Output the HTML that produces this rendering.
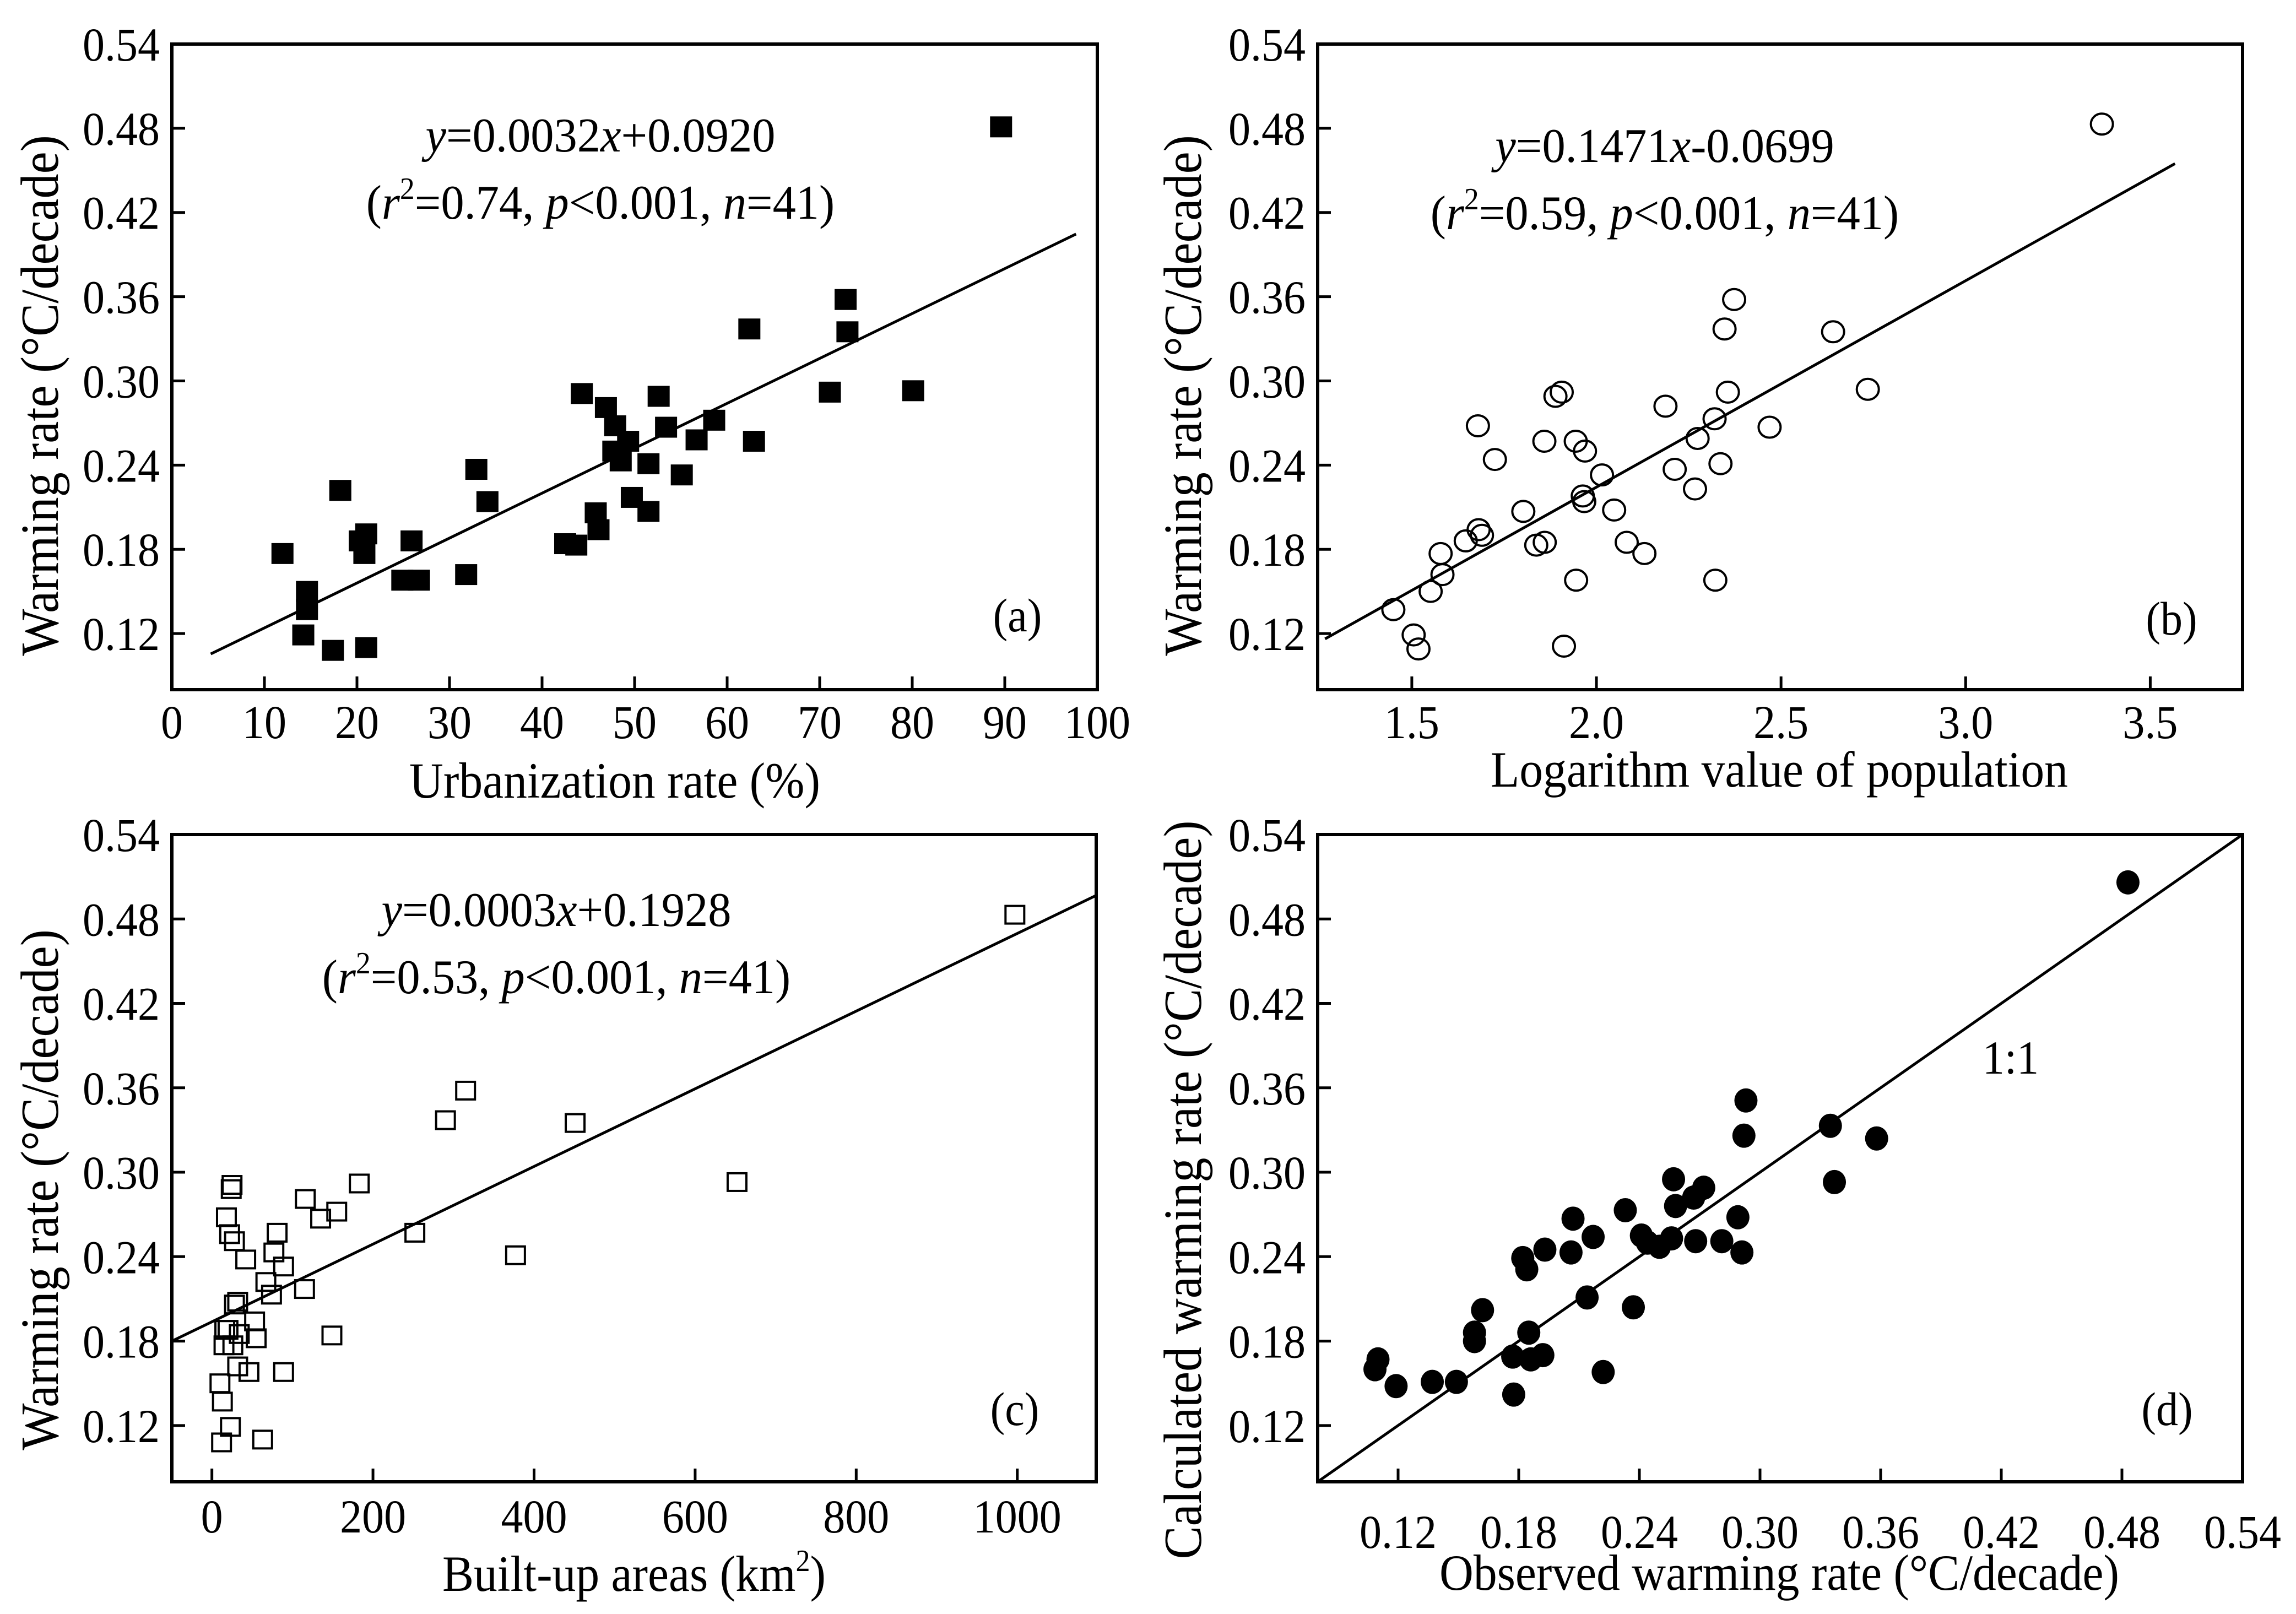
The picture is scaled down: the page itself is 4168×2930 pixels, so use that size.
<!DOCTYPE html>
<html><head><meta charset="utf-8"><style>
html,body{margin:0;padding:0;background:#fff}
svg{display:block}
text{font-family:"Liberation Serif",serif;fill:#000}
</style></head><body>
<svg id="fig" xmlns="http://www.w3.org/2000/svg" width="4168" height="2930" viewBox="0 0 4168 2930"></svg>
<script>
// ---- Panel (a) data: urbanization rate vs warming rate
const aX=[11.95,14.2,14.6,14.6,17.4,18.2,20.3,20.8,21.0,21.0,24.9,25.9,26.7,31.8,32.9,34.1,42.5,43.7,44.3,45.8,46.1,46.9,47.9,47.7,48.5,49.3,49.7,51.5,51.5,52.6,53.4,55.1,56.7,58.6,62.4,62.9,71.1,72.8,73.0,80.1,89.6];
const aY=[0.177,0.119,0.150,0.137,0.108,0.222,0.186,0.177,0.191,0.110,0.158,0.186,0.158,0.162,0.237,0.214,0.184,0.183,0.291,0.206,0.194,0.281,0.268,0.250,0.243,0.257,0.217,0.241,0.207,0.289,0.267,0.233,0.258,0.272,0.337,0.257,0.292,0.358,0.335,0.293,0.481];
const aXTicks=[0,10,20,30,40,50,60,70,80,90,100];
const aFit=[0.0032,0.0920,4.2,97.7];
// ---- Panel (b) data: log population
const bX=[1.450,1.505,1.518,1.551,1.583,1.578,1.646,1.681,1.690,1.679,1.725,1.802,1.837,1.860,1.859,1.889,1.906,1.912,1.945,1.944,1.969,1.963,1.967,2.015,2.048,2.082,2.130,2.187,2.212,2.267,2.274,2.320,2.322,2.336,2.347,2.356,2.373,2.469,2.641,2.735,3.369];
const bY=[0.137,0.119,0.109,0.150,0.162,0.177,0.186,0.194,0.190,0.268,0.244,0.207,0.183,0.185,0.257,0.289,0.292,0.111,0.158,0.257,0.250,0.218,0.214,0.233,0.208,0.185,0.177,0.282,0.237,0.223,0.259,0.273,0.158,0.241,0.337,0.292,0.358,0.267,0.335,0.294,0.483];
const bXTicks=[1.5,2.0,2.5,3.0,3.5];
const bFit=[0.1471,-0.0699,1.265,3.567];
// ---- Panel (c) data: built-up areas
const cX=[12,63,23,13,10,46,89,32,15,26,20,34,55,53,28,32,74,67,115,149,89,42,77,81,28,22,18,135,116,155,183,24,25,252,377,290,315,451,652,997,16];
const cY=[0.108,0.110,0.119,0.137,0.150,0.158,0.158,0.162,0.177,0.177,0.188,0.185,0.182,0.194,0.206,0.208,0.213,0.222,0.217,0.184,0.233,0.238,0.243,0.257,0.251,0.256,0.268,0.267,0.281,0.272,0.292,0.288,0.291,0.257,0.241,0.337,0.358,0.335,0.293,0.483,0.188];
const cXTicks=[0,200,400,600,800,1000];
const cFit=[0.000276,0.1937,-49.7,1098];
// ---- Panel (d) data: observed vs calculated
const dX=[0.1085,0.110,0.119,0.137,0.149,0.158,0.158,0.162,0.177,0.1775,0.185,0.186,0.192,0.182,0.184,0.193,0.206,0.207,0.214,0.217,0.222,0.233,0.237,0.241,0.244,0.250,0.256,0.257,0.258,0.267,0.272,0.268,0.281,0.289,0.291,0.292,0.293,0.335,0.337,0.358,0.483];
const dY=[0.160,0.167,0.148,0.151,0.151,0.180,0.186,0.202,0.169,0.142,0.186,0.167,0.170,0.239,0.231,0.245,0.243,0.267,0.211,0.254,0.158,0.273,0.204,0.255,0.250,0.247,0.253,0.295,0.276,0.282,0.289,0.251,0.251,0.268,0.243,0.326,0.351,0.333,0.293,0.324,0.506];
const dXTicks=[0.12,0.18,0.24,0.30,0.36,0.42,0.48,0.54];
const yTicks=[0.12,0.18,0.24,0.30,0.36,0.42,0.48,0.54];

const NS="http://www.w3.org/2000/svg";
const svg=document.getElementById('fig');
function mk(tag,attrs,parent){const e=document.createElementNS(NS,tag);for(const k in attrs)e.setAttribute(k,attrs[k]);(parent||svg).appendChild(e);return e;}
function squeeze(t,f){try{const w=t.getComputedTextLength();t.setAttribute('textLength',(w*f).toFixed(1));t.setAttribute('lengthAdjust','spacingAndGlyphs');}catch(e){}}
function txt(parent,x,y,s,fs,anchor,rot){const t=mk('text',{x:x,y:y,'font-size':fs,'text-anchor':anchor||'middle'},parent);t.textContent=s;if(rot)t.setAttribute('transform','rotate(-90 '+x+' '+y+')');squeeze(t,0.93);return t;}

function panel(o){
  const g=mk('g',{});
  
  
  const sx=v=>o.L+(v-o.x0)/(o.x1-o.x0)*(o.R-o.L);
  const sy=v=>o.B-(v-0.08)/(0.54-0.08)*(o.B-o.T);
  const clip=mk('clipPath',{id:'clip'+o.id},g);
  mk('rect',{x:o.L,y:o.T,width:o.R-o.L,height:o.B-o.T},clip);
  yTicks.forEach(v=>{
    const y=sy(v);
    const tk=mk('line',{x1:o.L,x2:o.L+24,y1:y,y2:y,stroke:'#000','stroke-width':5},g);
    
    
    const lb=txt(g,o.L-22,y+30,v.toFixed(2),86,'end');
    
    
  });
  o.xt.forEach(v=>{
    const x=sx(v);
    const tk=mk('line',{x1:x,x2:x,y1:o.B,y2:o.B-24,stroke:'#000','stroke-width':5},g);
    
    
    const lb=txt(g,x,o.xlY,o.fmt(v),86,'middle');
    
    
  });
  const f=o.fit;
  const ln=mk('line',{x1:sx(f[2]),y1:sy(f[0]*f[2]+f[1]),x2:sx(f[3]),y2:sy(f[0]*f[3]+f[1]),stroke:'#000','stroke-width':5,'clip-path':'url(#clip'+o.id+')'},g);
  
  
  o.X.forEach((xv,i)=>{
    const cx=sx(xv),cy=sy(o.Y[i]);let m;
    if(o.mark==='fsq')m=mk('rect',{x:cx-20,y:cy-19,width:40,height:38,fill:'#000'},g);
    else if(o.mark==='osq')m=mk('rect',{x:cx-17,y:cy-16,width:34,height:32,fill:'#fff','fill-opacity':0,stroke:'#000','stroke-width':4},g);
    else if(o.mark==='ocirc')m=mk('ellipse',{cx:cx,cy:cy,rx:20,ry:19,fill:'none',stroke:'#000','stroke-width':4},g);
    else m=mk('ellipse',{cx:cx,cy:cy,rx:21,ry:22,fill:'#000'},g);
    
    
  });
  const box=mk('rect',{x:o.L,y:o.T,width:o.R-o.L,height:o.B-o.T,fill:'none',stroke:'#000','stroke-width':6},g);
  
  
  const xt=txt(g,o.xtitle[0],o.xtitle[1],'',92,'middle');
  xt.innerHTML=o.xtitle[2];squeeze(xt,0.93);
  
  
  const yt=txt(g,o.ytitle[0],o.ytitle[1],o.ytitle[2],97,'middle',true);
  
  
  const pl=txt(g,o.plab[0],o.plab[1],'('+o.id+')',86,'middle');
  
  
  if(o.eq){
    const e1=mk('text',{x:o.eq[0],y:o.eq[1],'font-size':88,'text-anchor':'middle'},g);
    e1.innerHTML=o.eq[2];squeeze(e1,0.96);
    
    
    const e2=mk('text',{x:o.eq[0],y:o.eq[1]+122,'font-size':88,'text-anchor':'middle'},g);
    e2.innerHTML=o.eq[3];squeeze(e2,0.96);
    
    
  }
  return {g,sx,sy};
}
const st=r=>'(<tspan font-style="italic">r</tspan><tspan dy="-36" font-size="56">2</tspan><tspan dy="36">='+r+', </tspan><tspan font-style="italic">p</tspan>&lt;0.001, <tspan font-style="italic">n</tspan>=41)';
panel({id:'a',L:312,R:1992,T:80,B:1252,x0:0,x1:100,X:aX,Y:aY,xt:aXTicks,fmt:v=>String(v),fit:aFit,mark:'fsq',xlY:1340,
  xtitle:[1116,1448,'Urbanization rate (%)'],ytitle:[105,718,'Warming rate (°C/decade)'],plab:[1847,1146],
  eq:[1090,275,'<tspan font-style="italic">y</tspan>=0.0032<tspan font-style="italic">x</tspan>+0.0920',st('0.74')]});
panel({id:'b',L:2392,R:4071,T:80,B:1252,x0:1.245,x1:3.75,X:bX,Y:bY,xt:bXTicks,fmt:v=>v.toFixed(1),fit:bFit,mark:'ocirc',xlY:1340,
  xtitle:[3230,1428,'Logarithm value of population'],ytitle:[2180,718,'Warming rate (°C/decade)'],plab:[3942,1152],
  eq:[3022,294,'<tspan font-style="italic">y</tspan>=0.1471<tspan font-style="italic">x</tspan>-0.0699',st('0.59')]});
panel({id:'c',L:312,R:1990,T:1515,B:2690,x0:-49.7,x1:1098,X:cX,Y:cY,xt:cXTicks,fmt:v=>String(v),fit:cFit,mark:'osq',xlY:2782,
  xtitle:[1151,2888,'Built-up areas (km<tspan dy="-36" font-size="56">2</tspan><tspan dy="36">)</tspan>'],ytitle:[105,2160,'Warming rate (°C/decade)'],plab:[1842,2587],
  eq:[1010,1681,'<tspan font-style="italic">y</tspan>=0.0003<tspan font-style="italic">x</tspan>+0.1928',st('0.53')]});
const pd=panel({id:'d',L:2392,R:4071,T:1515,B:2690,x0:0.08,x1:0.54,X:dX,Y:dY,xt:dXTicks,fmt:v=>v.toFixed(2),fit:[1,0,0.08,0.54],mark:'fcirc',xlY:2810,
  xtitle:[3230,2886,'Observed warming rate (°C/decade)'],ytitle:[2180,2160,'Calculated warming rate (°C/decade)'],plab:[3934,2587]});
const one=txt(pd.g,3650,1949,'1:1',86,'middle');


</script>
</body></html>
